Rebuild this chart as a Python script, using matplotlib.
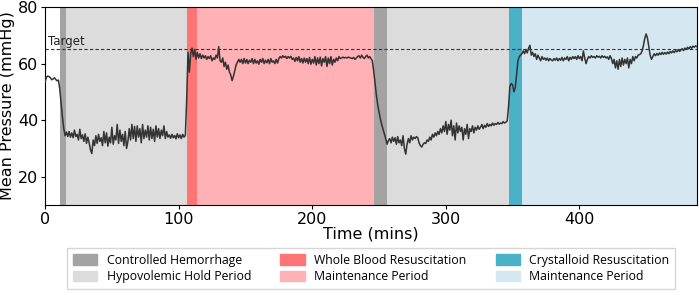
import numpy as np
import matplotlib
matplotlib.use('Agg')
import matplotlib.pyplot as plt
import matplotlib.patches as mpatches

# mean arterial pressure, one reading per minute
pressure = [
    53.5, 55.2, 55.6, 55.4, 55.0, 54.3, 54.6, 55.0, 54.4, 53.9,
    54.2, 51.0, 46.0, 41.0, 37.0, 34.5, 35.8, 34.2, 36.0, 34.0,
    35.5, 33.8, 36.5, 34.2, 35.0, 33.0, 36.8, 33.5, 34.8, 32.5,
    35.2, 31.8, 34.0, 32.0, 29.5, 28.2, 33.0, 31.0, 34.5, 31.8,
    35.0, 32.5, 33.8, 31.0, 36.0, 32.0, 35.5, 30.8, 34.0, 32.0,
    37.5, 31.5, 34.5, 33.0, 38.5, 31.8, 36.5, 32.5, 35.0, 31.0,
    36.0, 30.0, 32.5, 37.0, 33.0, 38.5, 33.5, 37.8, 32.5, 38.0,
    34.0, 37.0, 32.0, 38.5, 33.5, 36.5, 34.0, 38.0, 33.0, 37.5,
    33.5, 36.8, 32.5, 38.0, 34.0, 37.0, 33.5, 36.5, 34.5, 38.0,
    33.5, 36.0, 34.0, 34.8, 33.6, 35.0, 33.8, 34.6, 33.4, 35.2,
    33.8, 34.8, 33.5, 35.0, 34.0, 34.6,
    47.0, 64.0, 57.0, 63.5, 65.5, 62.5, 65.0, 61.5, 64.0, 62.0,
    63.5, 61.8, 63.0, 62.0, 62.8, 61.5, 62.5, 61.8, 62.8, 61.0,
    62.0, 61.5, 63.0, 62.0, 66.0, 61.0, 60.5, 62.0, 59.0, 60.5,
    58.0, 59.5, 57.0, 56.0, 54.0, 55.5, 57.5, 59.5, 60.5, 61.5,
    60.5, 61.5, 60.0, 61.8, 60.2, 61.5, 60.0, 61.2, 60.5, 61.8,
    60.0, 61.5, 60.2, 61.0, 59.8, 61.5, 60.5, 61.8, 60.0, 61.2,
    60.3, 61.5, 60.0, 61.8, 60.5, 61.0, 60.0, 61.5, 60.2, 61.8,
    62.5, 62.0, 62.8, 62.2, 62.6, 61.8, 62.5, 62.0, 62.6, 61.5,
    62.0, 60.8, 62.2, 61.0, 62.5, 60.5, 61.8, 60.2, 62.0, 60.5,
    61.8, 60.0, 62.2, 59.8, 61.5, 60.2, 62.5, 59.5, 62.0, 60.0,
    62.3, 59.2, 61.8, 60.5, 62.5, 59.0, 62.0, 60.0, 62.5, 59.5,
    61.5, 60.5, 62.0, 61.0, 62.5, 61.8, 62.0, 62.3, 62.0, 62.2,
    62.0, 62.3, 62.1, 62.0, 61.8, 62.2, 61.5, 62.0, 62.5, 62.8,
    62.0, 63.0, 62.2, 61.8, 62.5, 63.0, 62.0, 62.5, 61.8, 61.0,
    57.5, 53.3, 49.0, 45.5, 43.0, 40.5, 38.5, 36.8, 35.0, 33.5,
    31.5, 32.8, 33.5, 32.0, 34.0, 32.5, 33.8, 31.5, 34.2, 32.0,
    33.0, 31.0, 34.5, 30.0, 28.0, 31.5, 33.5, 32.0, 34.5, 33.0,
    34.0, 33.5, 34.2, 33.8, 32.0, 31.0, 30.5, 31.5, 32.0, 31.8,
    33.0, 32.5, 34.0, 33.0, 35.0, 34.0, 35.5, 34.5, 36.0, 35.0,
    37.0, 35.5, 38.0, 36.0, 39.5, 35.0, 38.5, 36.5, 40.0, 34.5,
    38.0, 33.0, 39.0, 35.5, 38.0, 36.0, 37.5, 33.0, 37.0, 35.0,
    38.5, 33.5, 37.0, 36.0, 38.0, 35.5, 37.5, 36.5, 38.0, 36.8,
    37.5, 38.5, 37.0, 38.2, 37.5, 38.8, 37.8, 38.5, 38.0, 39.0,
    38.2, 38.8, 38.5, 39.2, 38.6, 39.0, 38.8, 39.5, 39.0, 39.3,
    39.8, 45.0, 52.0, 53.0, 52.5, 50.0, 51.5, 56.0, 61.0, 62.5,
    63.0, 63.5, 64.5, 63.5, 65.0, 63.8, 65.5, 66.5, 63.0, 64.0,
    62.5, 63.5, 61.5, 63.0, 62.0, 61.0, 62.5, 61.5, 62.0, 61.2,
    62.0, 61.0, 61.8, 61.3, 61.0, 61.8, 61.2, 62.0, 61.0, 61.8,
    61.2, 62.2, 61.0, 62.0, 61.5, 62.5, 61.0, 62.2, 61.5, 62.5,
    61.8, 62.5, 61.5, 62.8, 61.8, 62.5, 61.0, 64.5, 62.0, 60.0,
    61.5, 62.5, 62.0, 62.8, 62.2, 62.5, 62.0, 62.8, 62.3, 62.6,
    62.0, 62.8, 62.2, 62.6, 62.0, 62.4, 61.5, 62.8, 61.8, 60.0,
    61.5, 58.5, 61.0, 58.0, 61.5, 59.0, 62.0, 59.5, 61.5, 60.0,
    62.0, 58.5, 61.5, 60.0, 62.5, 61.0, 62.5, 62.0, 63.0, 63.2,
    63.5, 64.5, 66.5, 69.0, 70.5, 69.0, 66.0, 63.0, 61.5, 62.5,
    63.5, 62.8, 63.6, 63.0, 63.8, 63.2, 64.0, 63.3, 63.9, 63.4,
    64.1, 63.5, 64.3, 63.8, 64.5, 63.9, 64.6, 64.2, 65.0, 64.3,
    64.8, 65.3, 64.6, 65.5, 65.0, 65.8, 65.2, 66.0, 65.4, 66.2,
    65.8, 66.3, 66.0,
]
time = np.arange(len(pressure))

target = 65

# protocol phases: (start, end) in minutes
phase_starts = [11, 16, 106.5, 114, 246, 256, 347.3, 356.7]
phase_ends = [16, 106.5, 114, 246, 256, 347.3, 356.7, 488]
phase_labels = ['Controlled Hemorrhage', 'Hypovolemic Hold Period',
                'Whole Blood Resuscitation', 'Maintenance Period',
                'Controlled Hemorrhage', 'Hypovolemic Hold Period',
                'Crystalloid Resuscitation', 'Maintenance Period']
phase_colors = ['#a3a3a3', '#dcdcdc', '#ff7474', '#ffb1b6',
                '#a3a3a3', '#dcdcdc', '#4bb1c7', '#d5e8f1']

fig = plt.figure(figsize=(6.99, 2.95), dpi=100)
ax = fig.add_axes([0.0645, 0.305, 0.9325, 0.671])

for s, e, c in zip(phase_starts, phase_ends, phase_colors):
    ax.axvspan(s, e, color=c, lw=0, zorder=0)

ax.plot(time, pressure, color='#333333', lw=1.1, zorder=3)
ax.axhline(target, color='#333333', ls='--', lw=0.8, dashes=(3, 2), zorder=2)
ax.text(2, target + 0.6, 'Target', fontsize=8.5, color='#222222', va='bottom')

ax.set_xlim(0, 488)
ax.set_ylim(10, 80)
ax.set_yticks([20, 40, 60, 80])
ax.set_xticks([0, 100, 200, 300, 400])
ax.tick_params(labelsize=11.5, length=3, pad=2)
ax.set_xlabel('Time (mins)', fontsize=11.5, labelpad=0)
ax.set_ylabel('Mean Pressure (mmHg)', fontsize=11.5, labelpad=2)

# legend: column-major order as in the figure
order = [0, 1, 2, 3, 6, 7]
handles = [mpatches.Patch(color=phase_colors[i], label=phase_labels[i]) for i in order]
fig.legend(handles=handles, ncol=3, loc='lower center', bbox_to_anchor=(0.531, 0.0),
           prop={'family': 'Open Sans', 'size': 8.8}, frameon=True,
           handlelength=2.0, handleheight=0.9, handletextpad=0.76,
           columnspacing=2.4, labelspacing=0.3, borderpad=0.45,
           fancybox=False, edgecolor='#cccccc')

plt.savefig('out.png', dpi=100)
plt.close()
